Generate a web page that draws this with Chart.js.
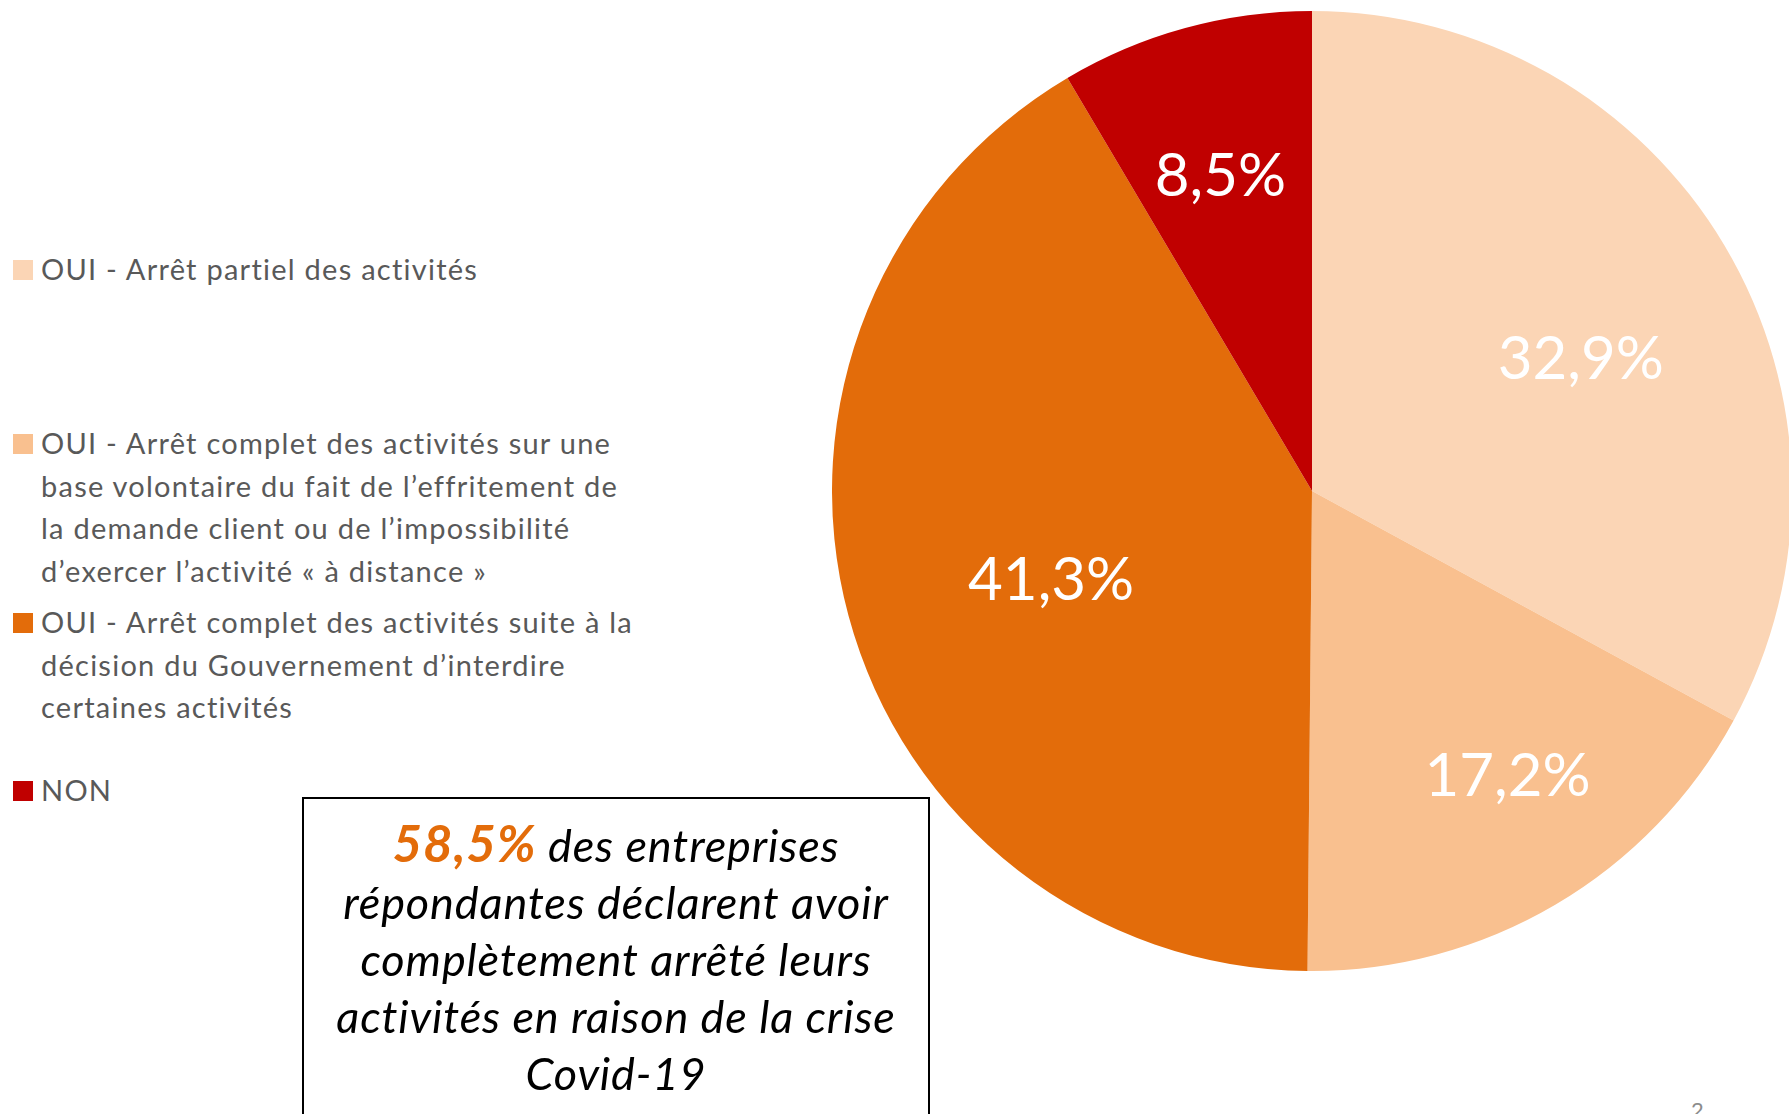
<!DOCTYPE html>
<html lang="fr">
<head>
<meta charset="utf-8">
<title>Arrêt des activités</title>
<script src="https://cdn.jsdelivr.net/npm/chart.js@4"></script>
<style>
  html, body { margin: 0; padding: 0; background: #fff; overflow: hidden; width: 1789px; height: 1114px; }
  body { position: relative; font-family: Lato, "Open Sans", sans-serif; }
  #pie-wrap { position: absolute; left: 832px; top: 11px; width: 960px; height: 960px; }
  .leg-item { position: absolute; left: 41px; width: 700px; font-size: 29px; letter-spacing: 1.25px;
              line-height: 42.7px; color: #595959; white-space: nowrap; }
  .leg-item .sw { position: absolute; left: -28px; top: 12px; width: 20px; height: 20px; }
  #box { position: absolute; left: 302px; top: 797px; width: 628px; height: 400px; border: 2px solid #000;
         box-sizing: border-box; padding-top: 15px; text-align: center; font-style: italic; font-size: 45px;
         letter-spacing: 0.9px; line-height: 57px; color: #000; white-space: nowrap; }
  #box b { color: #E36C0A; font-size: 51px; }
  #page-num { position: absolute; left: 1691px; top: 1096px; font-size: 22px; color: #8c8c8c; }
</style>
</head>
<body>
<div id="legend"></div>
<div id="pie-wrap"><canvas id="pie"></canvas></div>
<div id="box"><b>58,5%</b> des entreprises<br>répondantes déclarent avoir<br>complètement arrêté leurs<br>activités en raison de la crise<br>Covid-19</div>
<div id="page-num">2</div>
<script>
// Données du graphique
const categories = [
  ["OUI - Arrêt partiel des activités"],
  ["OUI - Arrêt complet des activités sur une", "base volontaire du fait de l’effritement de", "la demande client ou de l’impossibilité", "d’exercer l’activité « à distance »"],
  ["OUI - Arrêt complet des activités suite à la", "décision du Gouvernement d’interdire", "certaines activités"],
  ["NON"]
]
const values = [32.9, 17.2, 41.3, 8.5]
const colors = ["#FBD5B5", "#F9C08F", "#E36C0A", "#C00000"]

// Mise en page de la légende (position verticale de chaque entrée)
const legendTops = [248, 422, 601, 769]
// Position des étiquettes : fraction du rayon et décalage angulaire (degrés)
const labelRadius = [0.623, 0.722, 0.575, 0.683]
const labelShift = [4.7, -3.9, -4.0, -0.9]

// Légende HTML
const legend = document.getElementById("legend")
categories.forEach((lines, i) => {
  const item = document.createElement("div")
  item.className = "leg-item"
  item.style.top = legendTops[i] + "px"
  const sw = document.createElement("span")
  sw.className = "sw"
  sw.style.background = colors[i]
  item.appendChild(sw)
  item.innerHTML += lines.join("<br>")
  legend.appendChild(item)
})

// Étiquettes de pourcentage sur les parts
const sliceLabels = {
  id: "sliceLabels",
  afterDatasetsDraw(chart) {
    const ctx = chart.ctx
    const meta = chart.getDatasetMeta(0)
    ctx.save()
    ctx.font = "60px Lato, 'Open Sans', sans-serif"
    ctx.fillStyle = "#ffffff"
    ctx.textAlign = "center"
    ctx.textBaseline = "middle"
    meta.data.forEach((arc, i) => {
      const p = arc.getProps(["x", "y", "startAngle", "endAngle", "outerRadius"], true)
      const mid = (p.startAngle + p.endAngle) / 2 + (labelShift[i] * Math.PI) / 180
      const r = p.outerRadius * labelRadius[i]
      const txt = values[i].toFixed(1).replace(".", ",") + "%"
      ctx.fillText(txt, p.x + Math.cos(mid) * r, p.y + Math.sin(mid) * r)
    })
    ctx.restore()
  },
}

new Chart(document.getElementById("pie").getContext("2d"), {
  type: "pie",
  data: {
    labels: categories.map((l) => l.join(" ")),
    datasets: [
      {
        data: values,
        backgroundColor: colors,
        borderWidth: 0,
      },
    ],
  },
  options: {
    responsive: true,
    maintainAspectRatio: false,
    animation: false,
    layout: { padding: 0 },
    plugins: {
      legend: { display: false },
      tooltip: { enabled: false },
    },
  },
  plugins: [sliceLabels],
})
</script>
</body>
</html>
